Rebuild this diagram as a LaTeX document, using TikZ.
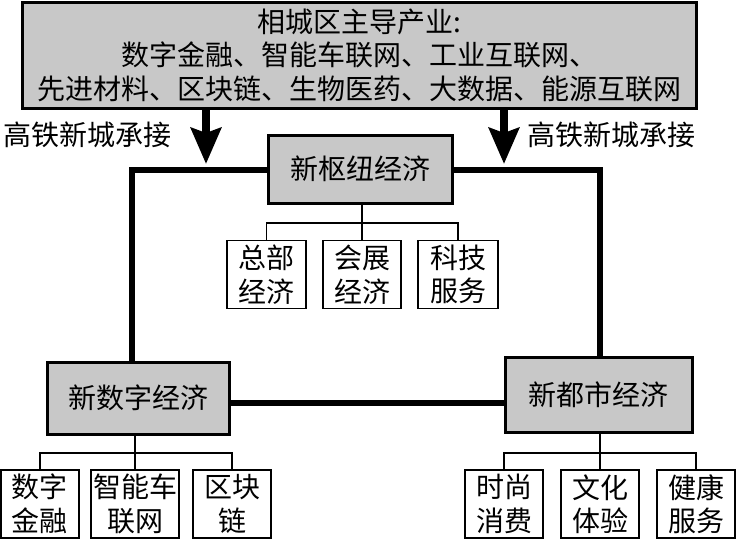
\documentclass[tikz,border=0pt]{standalone}
\usepackage{fontspec}
\newfontfamily\cjk{Noto Sans CJK SC}
\usetikzlibrary{arrows.meta,calc}
\definecolor{boxgray}{RGB}{200,200,200}
\tikzset{
  txt/.style={font=\cjk\fontsize{28}{33.5}\selectfont, inner sep=0pt, align=center},
  mainbox/.style={txt, draw=black, fill=boxgray, line width=3pt},
  subbox/.style={txt, draw=black, fill=white, line width=1.5pt, minimum height=68pt},
  looplink/.style={line width=5.5pt},
  treelink/.style={line width=1.5pt},
  bigarrow/.style={line width=8pt, -{Stealth[length=36pt,width=30pt,inset=5pt]}},
}
\begin{document}
\begin{tikzpicture}[x=1pt,y=-1pt]
\useasboundingbox (0,0) rectangle (736,541);
% top box
\node[mainbox, minimum width=674pt, minimum height=106pt] (top) at (359,55)
  {相城区主导产业:\\数字金融、智能车联网、工业互联网、\\先进材料、区块链、生物医药、大数据、能源互联网};
% labels
\node[txt] (lblL) at (87,135) {高铁新城承接};
\node[txt] (lblR) at (611,135) {高铁新城承接};
% arrows
\coordinate (arL) at (206,164);
\coordinate (arR) at (504,164);
\draw[bigarrow] (top.south -| arL) -- (arL);
\draw[bigarrow] (top.south -| arR) -- (arR);
% hub
\node[mainbox, minimum width=184pt, minimum height=68pt] (hub) at (360,169) {新枢纽经济};
% bottom main boxes
\node[mainbox, minimum width=182pt, minimum height=72pt] (dig) at (138,398) {新数字经济};
\node[mainbox, minimum width=187pt, minimum height=75pt] (urb) at (598.5,394.5) {新都市经济};
% loop
\coordinate (cL) at (132,170);
\coordinate (cR) at (600,170);
\coordinate (bL) at (229,403);
\draw[looplink] (hub.west |- cL) -- (cL) -- (cL |- dig.north);
\draw[looplink] (hub.east |- cR) -- (cR) -- (cR |- urb.north);
\draw[looplink] (dig.east |- bL) -- (urb.west |- bL);
% hub sub boxes
\node[subbox, minimum width=79pt] (zb) at (266.5,274.5) {总部\\经济};
\node[subbox, minimum width=78pt] (hz) at (362,274.5) {会展\\经济};
\node[subbox, minimum width=80pt] (kj) at (458,274.5) {科技\\服务};
\coordinate (jT) at (362,223);
\draw[treelink] (hub.south -| jT) -- (jT) -- (hz.north);
\draw[treelink] (zb.north) |- (jT) -| (kj.north);
% digital sub boxes
\node[subbox, minimum width=78pt] (szjr) at (40,504) {数字\\金融};
\node[subbox, minimum width=88pt] (zn) at (135,504) {智能车\\联网};
\node[subbox, minimum width=78pt] (qkl) at (232,504) {区块\\链};
\coordinate (jL) at (135,453);
\draw[treelink] (dig.south -| jL) -- (jL) -- (zn.north);
\draw[treelink] (szjr.north) |- (jL) -| (qkl.north);
% urban sub boxes
\node[subbox, minimum width=78pt] (ss) at (504,504) {时尚\\消费};
\node[subbox, minimum width=78pt] (wh) at (600,504) {文化\\体验};
\node[subbox, minimum width=78pt] (jk) at (696,504) {健康\\服务};
\coordinate (jR) at (600,453);
\draw[treelink] (urb.south -| jR) -- (jR) -- (wh.north);
\draw[treelink] (ss.north) |- (jR) -| (jk.north);
\end{tikzpicture}
\end{document}
